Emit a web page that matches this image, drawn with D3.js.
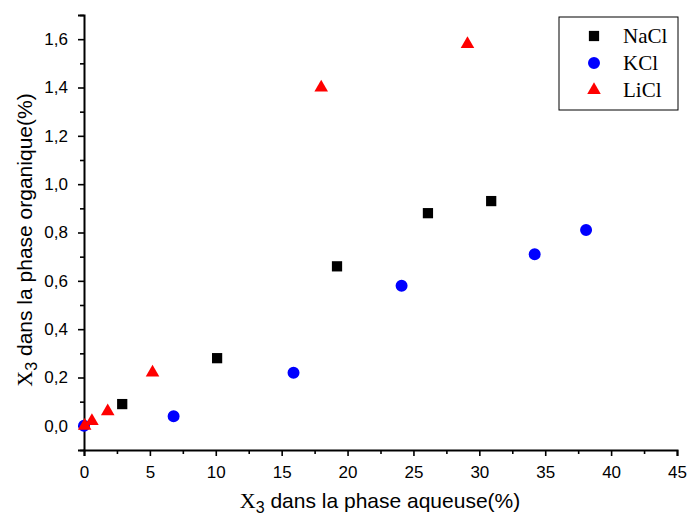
<!DOCTYPE html>
<html><head><meta charset="utf-8">
<script src="https://cdn.jsdelivr.net/npm/d3@7"></script>
<style>body{margin:0;background:#fff}</style>
</head><body>
<svg id="c" width="687" height="517"></svg>
<script>
const naclX = [2.9, 10.1, 19.2, 26.1, 30.9];
const naclY = [0.09, 0.28, 0.66, 0.88, 0.93];
const kclX = [0.0, 6.8, 15.9, 24.1, 34.2, 38.1];
const kclY = [0.0, 0.04, 0.22, 0.58, 0.71, 0.81];
const liclX = [0.05, 0.6, 1.8, 5.2, 18.0, 29.1];
const liclY = [0.0, 0.02, 0.06, 0.22, 1.40, 1.58];
const xTicks = [0,5,10,15,20,25,30,35,40,45];
const yTicks = [0,0.2,0.4,0.6,0.8,1.0,1.2,1.4,1.6];
const seriesNames = ["NaCl","KCl","LiCl"];
const colors = ["#000000","#0000ff","#ff0000"];

const svg = d3.select("#c");
const x = d3.scaleLinear().domain([0,45]).range([84,677]);
const y = d3.scaleLinear().domain([-0.1,1.7]).range([450,15]);
const fmt = d => d3.format(".1f")(d).replace(".", ",");

svg.append("g").attr("transform","translate(0,450)")
  .call(d3.axisBottom(x).tickValues(xTicks).tickFormat(d3.format("d")).tickSize(6).tickPadding(10));
svg.append("g").attr("transform","translate(0,450)")
  .call(d3.axisBottom(x).tickValues(d3.range(2.5,45,5)).tickFormat("").tickSize(4))
  .select(".domain").remove();
svg.append("g").attr("transform","translate(84,0)")
  .call(d3.axisLeft(y).tickValues(yTicks).tickFormat(fmt).tickSize(6).tickPadding(10));
svg.append("g").attr("transform","translate(84,0)")
  .call(d3.axisLeft(y).tickValues([-0.1,0.1,0.3,0.5,0.7,0.9,1.1,1.3,1.5,1.7]).tickFormat("").tickSize(4))
  .select(".domain").remove();
svg.selectAll(".domain").attr("stroke","#000").attr("stroke-width",2);
svg.selectAll(".tick line").attr("stroke","#000").attr("stroke-width",1.6);
svg.selectAll(".tick text").attr("font-family","Liberation Sans, Arial, sans-serif").attr("font-size",17).attr("fill","#000");

const xt = svg.append("text").attr("x",380).attr("y",508).attr("text-anchor","middle")
  .attr("font-family","Liberation Sans, Arial, sans-serif").attr("font-size",21);
xt.append("tspan").attr("font-family","Liberation Serif, Times New Roman, serif").attr("font-size",22).text("X");
xt.append("tspan").attr("dy",5).attr("font-size",16).text("3");
xt.append("tspan").attr("dy",-5).text(" dans la phase aqueuse(%)");

const yt = svg.append("text").attr("transform","translate(32,240) rotate(-90)").attr("text-anchor","middle")
  .attr("font-family","Liberation Sans, Arial, sans-serif").attr("font-size",21);
yt.append("tspan").attr("font-family","Liberation Serif, Times New Roman, serif").attr("font-size",22).text("X");
yt.append("tspan").attr("dy",5).attr("font-size",16).text("3");
yt.append("tspan").attr("dy",-5).text(" dans la phase organique(%)");

const sym = [d3.symbolSquare, d3.symbolCircle, d3.symbolTriangle];
const sizes = [105, 113, 80];
const data = [
  naclX.map((v,i)=>[v,naclY[i]]),
  kclX.map((v,i)=>[v,kclY[i]]),
  liclX.map((v,i)=>[v,liclY[i]])
];
data.forEach((pts,si)=>{
  svg.append("g").selectAll("path").data(pts).join("path")
    .attr("d", d3.symbol().type(sym[si]).size(sizes[si]))
    .attr("transform", d=>`translate(${x(d[0])},${y(d[1])})`)
    .attr("fill", colors[si]);
});

const lg = svg.append("g");
lg.append("rect").attr("x",559).attr("y",17).attr("width",119).attr("height",93)
  .attr("fill","#fff").attr("stroke","#000").attr("stroke-width",1);
seriesNames.forEach((n,i)=>{
  const yy = 36 + i*27;
  lg.append("path").attr("d", d3.symbol().type(sym[i]).size(sizes[i]))
    .attr("transform",`translate(594,${yy})`).attr("fill",colors[i]);
  lg.append("text").attr("x",623).attr("y",yy+7).text(n)
    .attr("font-family","Liberation Serif, Times New Roman, serif").attr("font-size",21);
});
</script>
</body></html>
